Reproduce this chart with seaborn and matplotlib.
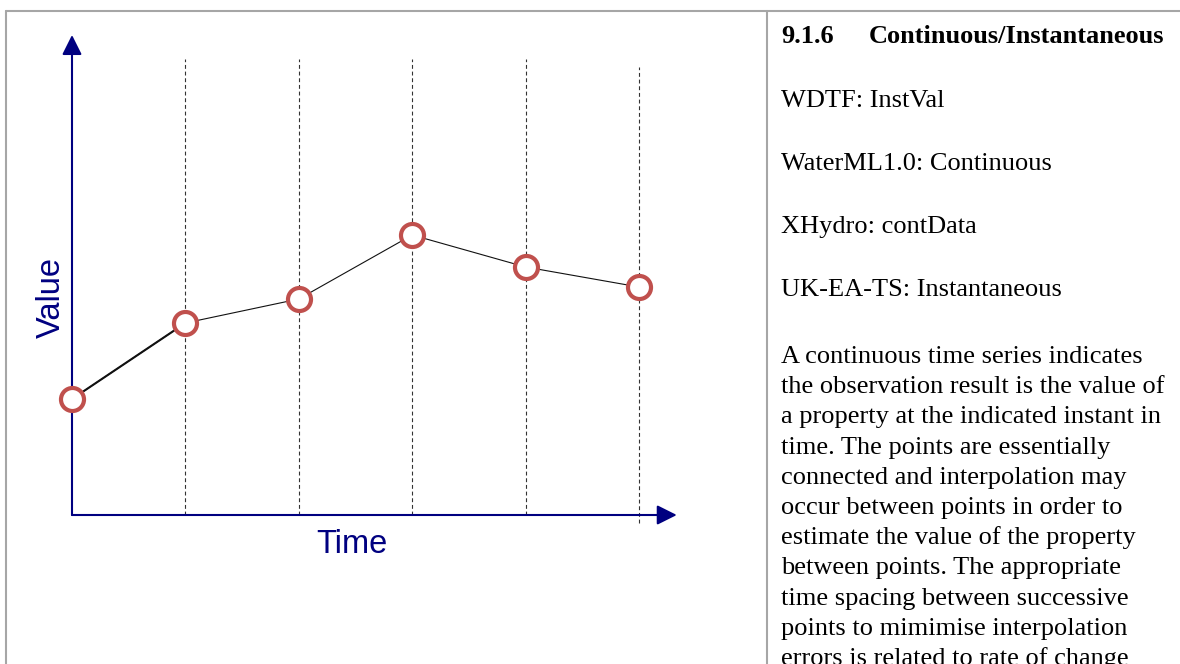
import matplotlib
matplotlib.use("Agg")
import matplotlib.pyplot as plt
import seaborn as sns
import pandas as pd
from matplotlib.lines import Line2D

# data
times = [0, 1, 2, 3, 4, 5]
values = [2.9, 4.8, 5.4, 7.0, 6.2, 5.7]
guide_top = [11.4, 11.4, 11.4, 11.4, 11.2]
guide_bottom = [0, 0, 0, 0, -0.2]

heading_num = "9.1.6"
heading_txt = "Continuous/Instantaneous"
aliases = ["WDTF: InstVal", "WaterML1.0: Continuous", "XHydro: contData", "UK-EA-TS: Instantaneous"]
paragraph = [
    "A continuous time series indicates",
    "the observation result is the value of",
    "a property at the indicated instant in",
    "time. The points are essentially",
    "connected and interpolation may",
    "occur between points in order to",
    "estimate the value of the property",
    "between points. The appropriate",
    "time spacing between successive",
    "points to mimimise interpolation",
    "errors is related to rate of change",
]

df = pd.DataFrame({"time": times, "value": values})

sns.set_theme(style="white")
W, H = 1180, 664
fig = plt.figure(figsize=(W / 100, H / 100), dpi=100)

# axes placed so one time step = 113.4 px, one value unit = 40 px
left_px, right_px, top_px, bot_px = 60, 690, 25, 530
ax = fig.add_axes([left_px / W, 1 - bot_px / H, (right_px - left_px) / W, (bot_px - top_px) / H])
ax.set_xlim((left_px - 72) / 113.4, (right_px - 72) / 113.4)
ax.set_ylim((515 - bot_px) / 40, (515 - top_px) / 40)
ax.axis("off")

navy = "#000080"
red = "#C0504D"

# dashed guides at each time step
for t, lo, hi in zip(times[1:], guide_bottom, guide_top):
    ax.vlines(t, lo, hi, colors="#333333", lw=0.8, linestyles=(0, (3.5, 2.5)), clip_on=False, zorder=1)

# axis arrows
arrow = dict(arrowstyle="-|>,head_length=0.6,head_width=0.3", color=navy, lw=1.5,
             mutation_scale=20, shrinkA=0, shrinkB=0)
ax.annotate("", xy=(5.333, 0), xytext=(0, 0), arrowprops=arrow, annotation_clip=False)
ax.annotate("", xy=(0, 12.0), xytext=(0, 0), arrowprops=arrow, annotation_clip=False)

sns.lineplot(data=df, x="time", y="value", color="#111111", lw=0.8, ax=ax, zorder=3)
sns.lineplot(data=df.iloc[:2], x="time", y="value", color="#111111", lw=1.5, ax=ax, zorder=3)
sns.scatterplot(data=df, x="time", y="value", s=275, color="white", edgecolor=red,
                linewidth=3.0, ax=ax, zorder=5, clip_on=False)
ax.axis("off")

fig.text(60 / W, 1 - 297 / H, "Value", rotation=90, rotation_mode="anchor", ha="center",
         va="baseline", color=navy, fontsize=23.5, family="Liberation Sans")
fig.text(352 / W, 1 - 553 / H, "Time", ha="center", va="baseline", color=navy,
         fontsize=23.5, family="Liberation Sans")

# table borders
grey = "#A6A6A6"
fig.add_artist(Line2D([6 / W, 1], [1 - 11 / H] * 2, color=grey, lw=1.5))
fig.add_artist(Line2D([6 / W] * 2, [0, 1 - 11 / H], color=grey, lw=1.5))
fig.add_artist(Line2D([767 / W] * 2, [0, 1 - 11 / H], color=grey, lw=1.5))

serif = "Liberation Serif"
ink = "black"
fig.text(781 / W, 1 - 43 / H, heading_num, fontsize=19, weight="bold", family=serif, va="baseline", color=ink)
fig.text(869 / W, 1 - 43 / H, heading_txt, fontsize=19, weight="bold", family=serif, va="baseline", color=ink)
for i, s in enumerate(aliases):
    fig.text(781 / W, 1 - (107 + 63 * i) / H, s, fontsize=19, family=serif, va="baseline", color=ink)
for i, s in enumerate(paragraph):
    fig.text(781 / W, 1 - (363 + 30.2 * i) / H, s, fontsize=19, family=serif, va="baseline", color=ink)

fig.savefig("out.png", dpi=100)
